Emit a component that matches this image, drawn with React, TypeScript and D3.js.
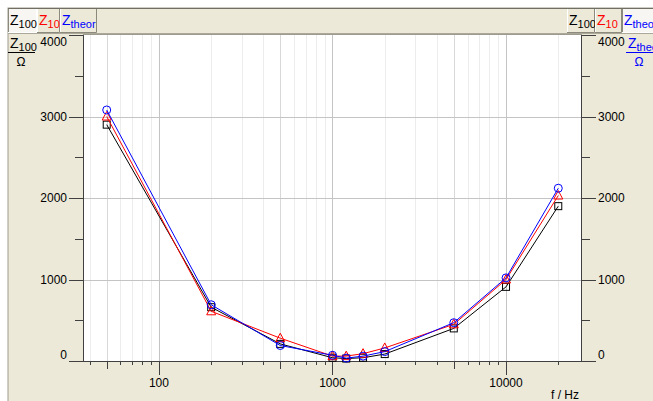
import React, { useEffect, useRef } from "react";
import * as d3 from "d3";

// measured impedance vs frequency
const freqs = [50, 200, 500, 1000, 1200, 1500, 2000, 5000, 10000, 20000];
const z100 = [2900, 660, 210, 40, 30, 40, 85, 400, 910, 1900];
const z10 = [3000, 610, 280, 60, 60, 90, 160, 450, 1000, 2030];
const ztheor = [3080, 690, 190, 70, 35, 60, 115, 470, 1020, 2120];

const yTicks = [0, 1000, 2000, 3000, 4000];
const yMinorTicks = [500, 1500, 2500, 3500];
const xLabels = [100, 1000, 10000];

const FONT = "'Liberation Sans', Arial, sans-serif";
const BG = "#ECE9D8";

export default function App() {
  const ref = useRef<SVGSVGElement>(null);

  useEffect(() => {
    const svg = d3.select(ref.current);
    svg.selectAll("*").remove();

    const left = 83, right = 582, top = 34, bottom = 361;
    const x = d3.scaleLog().domain([36.5, 27400]).range([left, right]);
    const y = d3.scaleLinear().domain([0, 4000]).range([bottom, 35]);

    // widget background
    svg.append("rect").attr("x", 8).attr("y", 8).attr("width", 660).attr("height", 400)
      .attr("fill", BG).attr("stroke", "#9d9b8e");

    // toolbar strip
    svg.append("line").attr("x1", 8).attr("x2", 653).attr("y1", 33.5).attr("y2", 33.5).attr("stroke", "#aca899");

    const buttons = [
      { x: 8, w: 29, label: "100", color: "#000", pressed: true },
      { x: 37, w: 23, label: "10", color: "#f00", pressed: false },
      { x: 60, w: 37, label: "theor", color: "#00f", pressed: false },
      { x: 567, w: 28, label: "100", color: "#000", pressed: false },
      { x: 595, w: 27, label: "10", color: "#f00", pressed: false },
      { x: 622, w: 40, label: "theor", color: "#00f", pressed: true },
    ];
    buttons.forEach(b => {
      const g = svg.append("g");
      g.append("rect").attr("x", b.x).attr("y", 8).attr("width", b.w).attr("height", 25)
        .attr("fill", b.pressed ? "#f7f6f2" : BG);
      const lt = b.pressed ? "#8c8a7d" : "#ffffff";
      const rb = b.pressed ? "#ffffff" : "#8c8a7d";
      g.append("path").attr("d", `M${b.x + 0.5},33 V8.5 H${b.x + b.w}`).attr("fill", "none").attr("stroke", lt);
      g.append("path").attr("d", `M${b.x + b.w - 0.5},8.5 V32.5 H${b.x}`).attr("fill", "none").attr("stroke", rb);
      const t = g.append("text").attr("x", b.x + 2).attr("y", 25).attr("fill", b.color)
        .attr("font-family", FONT).attr("font-size", 14);
      t.append("tspan").text("Z");
      t.append("tspan").attr("font-size", 11).attr("dy", 3).text(b.label);
    });
    svg.append("line").attr("x1", 8).attr("x2", 653).attr("y1", 8.5).attr("y2", 8.5).attr("stroke", "#716f64");

    // plot area
    svg.append("rect").attr("x", left).attr("y", top).attr("width", right - left).attr("height", bottom - top)
      .attr("fill", "#fff");

    // vertical grid
    const gridVals: number[] = [];
    for (let k = 1; k <= 4; k++) {
      for (let m = 1; m <= 9; m++) {
        const v = m * Math.pow(10, k);
        if (v >= 36.5 && v <= 27400) gridVals.push(v);
      }
    }
    const kind = (v: number) => {
      const m = Math.round(v / Math.pow(10, Math.floor(Math.log10(v) + 1e-9)));
      return m === 1 ? 2 : m === 5 ? 1 : 0;
    };
    svg.append("g").selectAll("line").data(gridVals).join("line")
      .attr("x1", d => Math.round(x(d)) + 0.5).attr("x2", d => Math.round(x(d)) + 0.5)
      .attr("y1", top).attr("y2", bottom)
      .attr("stroke", d => ["#ececec", "#d8d8d8", "#c4c4c4"][kind(d)]);

    // horizontal grid
    svg.append("g").selectAll("line").data([1000, 2000, 3000]).join("line")
      .attr("x1", left).attr("x2", right)
      .attr("y1", d => Math.round(y(d)) + 0.5).attr("y2", d => Math.round(y(d)) + 0.5)
      .attr("stroke", "#c4c4c4");

    // frame
    svg.append("line").attr("x1", left + 0.5).attr("x2", left + 0.5).attr("y1", top).attr("y2", bottom + 1).attr("stroke", "#404040");
    svg.append("line").attr("x1", right - 0.5).attr("x2", right - 0.5).attr("y1", top).attr("y2", bottom + 1).attr("stroke", "#404040");
    svg.append("line").attr("x1", left).attr("x2", right).attr("y1", bottom + 0.5).attr("y2", bottom + 0.5).attr("stroke", "#404040");
    svg.append("line").attr("x1", left).attr("x2", right).attr("y1", top + 0.5).attr("y2", top + 0.5).attr("stroke", "#9d9b8e");

    // x ticks
    svg.append("g").selectAll("line").data(gridVals).join("line")
      .attr("x1", d => Math.round(x(d)) + 0.5).attr("x2", d => Math.round(x(d)) + 0.5)
      .attr("y1", bottom).attr("y2", d => bottom + [4, 8, 14][kind(d)])
      .attr("stroke", "#404040");
    svg.append("g").selectAll("text").data(xLabels).join("text")
      .attr("x", d => x(d)).attr("y", 387).attr("text-anchor", "middle")
      .attr("font-family", FONT).attr("font-size", 12).attr("fill", "#000")
      .text(d => String(d));
    svg.append("text").attr("x", 579).attr("y", 399).attr("text-anchor", "end")
      .attr("font-family", FONT).attr("font-size", 12).text("f / Hz");

    // y ticks, both sides
    const yt = svg.append("g");
    yt.selectAll(".maj").data(yTicks).join("path").attr("class", "maj")
      .attr("d", d => { const yy = Math.round(y(d)) + 0.5; return `M69,${yy}H${left}M${right},${yy}H596`; })
      .attr("stroke", "#404040");
    yt.selectAll(".min").data(yMinorTicks).join("path").attr("class", "min")
      .attr("d", d => { const yy = Math.round(y(d)) + 0.5; return `M75,${yy}H${left}M${right},${yy}H590`; })
      .attr("stroke", "#404040");
    const labY = (d: number) => Math.max(42, Math.min(355, y(d))) + 4;
    yt.selectAll(".ll").data(yTicks).join("text").attr("class", "ll")
      .attr("x", 67).attr("y", labY).attr("text-anchor", "end")
      .attr("font-family", FONT).attr("font-size", 12).text(d => String(d));
    yt.selectAll(".rl").data(yTicks).join("text").attr("class", "rl")
      .attr("x", 598).attr("y", labY).attr("text-anchor", "start")
      .attr("font-family", FONT).attr("font-size", 12).text(d => String(d));

    // axis unit labels
    const unit = (x0: number, label: string, color: string) => {
      const t = svg.append("text").attr("x", x0 + 2).attr("y", 48).attr("fill", color)
        .attr("font-family", FONT).attr("font-size", 14);
      t.append("tspan").text("Z");
      t.append("tspan").attr("font-size", 11).attr("dy", 3).text(label);
      svg.append("line").attr("x1", x0).attr("x2", x0 + 27).attr("y1", 52.5).attr("y2", 52.5).attr("stroke", color);
      svg.append("text").attr("x", x0 + 13).attr("y", 66).attr("text-anchor", "middle").attr("fill", color)
        .attr("font-family", FONT).attr("font-size", 12).text("Ω");
    };
    unit(8, "100", "#000");
    unit(626, "theor", "#00f");

    // series
    const series = [
      { vals: z100, color: "#000", marker: "square" },
      { vals: z10, color: "#f00", marker: "triangle" },
      { vals: ztheor, color: "#00f", marker: "circle" },
    ];
    const line = d3.line<number>().x((_, i) => x(freqs[i])).y(d => y(d));
    series.forEach(s => {
      const g = svg.append("g");
      g.append("path").datum(s.vals).attr("d", line).attr("fill", "none").attr("stroke", s.color).attr("stroke-width", 1);
      const pts = g.selectAll(".pt").data(s.vals).join("g").attr("class", "pt")
        .attr("transform", (d, i) => `translate(${x(freqs[i])},${y(d)})`);
      if (s.marker === "square") {
        pts.append("rect").attr("x", -3.5).attr("y", -3.5).attr("width", 7).attr("height", 7)
          .attr("fill", "none").attr("stroke", s.color);
      } else if (s.marker === "triangle") {
        pts.append("path").attr("d", "M0,-5L4.5,3.5L-4.5,3.5Z").attr("fill", "none").attr("stroke", s.color);
      } else {
        pts.append("circle").attr("r", 4).attr("fill", "none").attr("stroke", s.color);
      }
    });
  }, []);

  return (
    <svg ref={ref} width={653} height={401}
      style={{ position: "absolute", left: 0, top: 0, background: "#fff" }} />
  );
}
